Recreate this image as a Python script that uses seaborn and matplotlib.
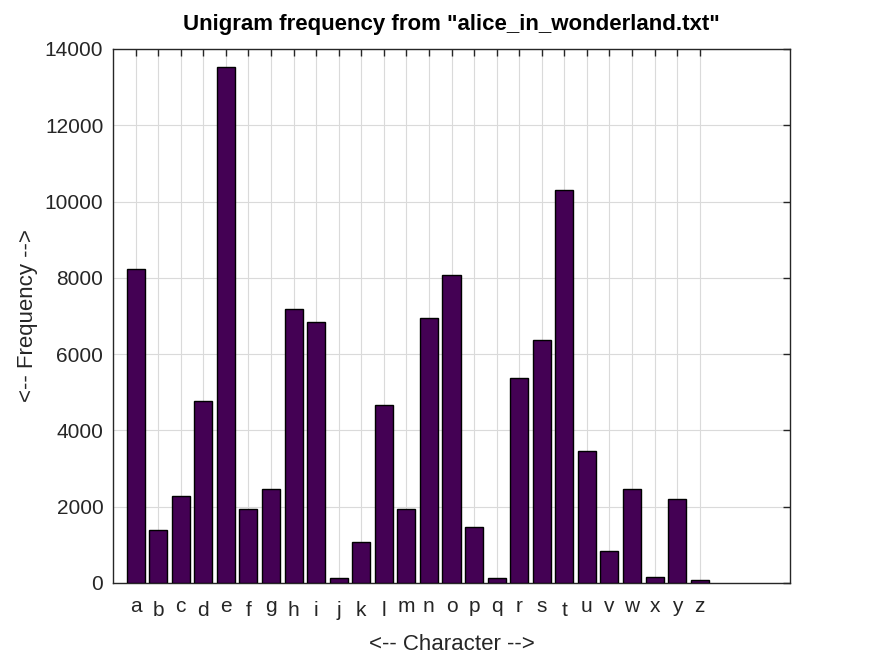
"""Unigram frequency bar chart (alice_in_wonderland.txt)."""

import matplotlib
matplotlib.use("Agg")
import matplotlib.pyplot as plt
import matplotlib.transforms as mtransforms
import pandas as pd
import seaborn as sns

letters = list("abcdefghijklmnopqrstuvwxyz")
counts = [8237, 1390, 2281, 4771, 13529, 1940, 2465, 7184, 6850, 123,
          1067, 4666, 1940, 6947, 8079, 1460, 123, 5368, 6368, 10315,
          3461, 839, 2457, 157, 2194, 79]
y_ticks = [0, 2000, 4000, 6000, 8000, 10000, 12000, 14000]

sns.set_theme(style="white")
plt.rcParams["font.family"] = ["Liberation Sans", "DejaVu Sans"]

df = pd.DataFrame({"char": letters, "freq": counts})

fig = plt.figure(figsize=(8.73, 6.55), dpi=100)
ax = fig.add_axes([113 / 873, 1 - 583 / 655, 677 / 873, 534 / 655])

sns.barplot(data=df, x="char", y="freq", order=letters, color="#440154",
            saturation=1, width=0.8, edgecolor="black", linewidth=1.0,
            ax=ax, zorder=3)

ax.set_xlim(-1, 29)
ax.set_ylim(0, 14000)
ax.set_yticks(y_ticks)
ax.set_yticklabels([str(v) for v in y_ticks])
ax.set_xticks(range(len(letters)))
ax.set_xticklabels(letters)

ax.grid(True, color="#dadada", linewidth=0.8, zorder=0)
ax.set_axisbelow(True)
for sp in ax.spines.values():
    sp.set_color("#262626")
    sp.set_linewidth(1.0)
    sp.set_visible(True)

ax.tick_params(axis="both", which="major", direction="in", length=5,
               width=1.0, color="#262626", top=True, right=True,
               labelsize=15, labelcolor="#262626")
ax.tick_params(axis="x", pad=10)
ax.tick_params(axis="y", pad=7)

# tall glyphs sit a bit lower in the original renderer
shift = mtransforms.ScaledTranslation(0, -4 / 100, fig.dpi_scale_trans)
for lab in ax.get_xticklabels():
    if lab.get_text() in set("bdfhijklt"):
        lab.set_transform(lab.get_transform() + shift)

ax.set_title('Unigram frequency from "alice_in_wonderland.txt"',
             fontsize=16, fontweight="bold", pad=14, color="black")
ax.set_xlabel("<-- Character -->", fontsize=16, color="#262626", labelpad=10)
ax.set_ylabel("<-- Frequency -->", fontsize=16, color="#262626", labelpad=5)

fig.savefig("out.png", dpi=100)
plt.close(fig)
